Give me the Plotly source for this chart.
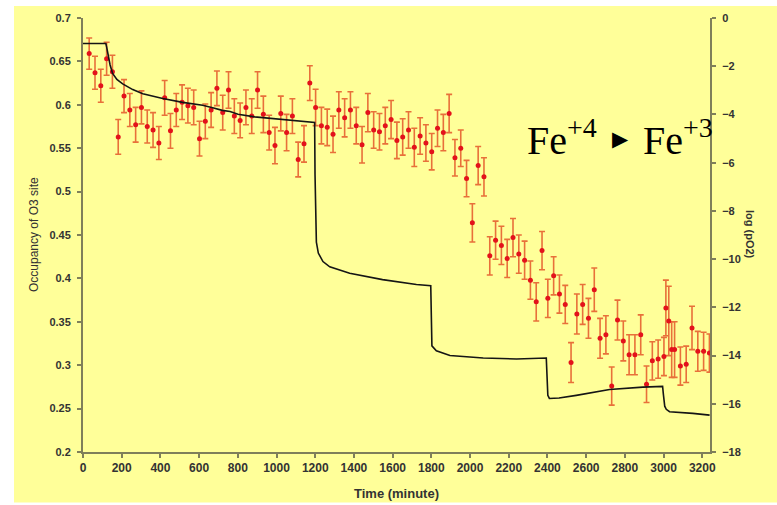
import plotly.graph_objects as go

# ---------------- data ----------------
time_pts = [32, 62, 92, 122, 152, 182, 212, 242, 272, 302,
            332, 362, 392, 422, 452, 482, 512, 542, 572, 602,
            632, 662, 692, 722, 752, 782, 812, 842, 872, 902,
            932, 962, 992, 1022, 1052, 1082, 1112, 1142, 1172, 1202,
            1232, 1262, 1292, 1322, 1352, 1382, 1412, 1442, 1472, 1502,
            1532, 1562, 1592, 1622, 1652, 1682, 1712, 1742, 1772, 1802,
            1832, 1862, 1892, 1922, 1952, 1982, 2012, 2042, 2072, 2102,
            2132, 2162, 2192, 2222, 2252, 2282, 2312, 2342, 2372, 2402,
            2432, 2462, 2492, 2522, 2552, 2582, 2612, 2642, 2672, 2702,
            2732, 2762, 2792, 2822, 2852, 2882, 2912, 2942, 2972, 3002,
            3012, 3027, 3042, 3057, 3087, 3117, 3147, 3177, 3207, 3237]

occupancy = [0.659, 0.637, 0.622, 0.653, 0.638, 0.563, 0.610, 0.594, 0.577, 0.597,
             0.575, 0.571, 0.556, 0.608, 0.570, 0.594, 0.603, 0.599, 0.597, 0.561,
             0.581, 0.594, 0.619, 0.591, 0.617, 0.587, 0.582, 0.597, 0.587, 0.617,
             0.589, 0.568, 0.553, 0.590, 0.568, 0.587, 0.537, 0.555, 0.625, 0.597,
             0.576, 0.574, 0.566, 0.594, 0.585, 0.594, 0.576, 0.554, 0.591, 0.571,
             0.569, 0.576, 0.583, 0.559, 0.563, 0.571, 0.551, 0.564, 0.556, 0.546,
             0.573, 0.568, 0.590, 0.539, 0.550, 0.515, 0.464, 0.530, 0.517, 0.426,
             0.444, 0.438, 0.423, 0.447, 0.428, 0.421, 0.398, 0.373, 0.432, 0.377,
             0.403, 0.382, 0.370, 0.303, 0.359, 0.370, 0.354, 0.387, 0.331, 0.335,
             0.276, 0.352, 0.328, 0.312, 0.312, 0.335, 0.278, 0.305, 0.307, 0.310,
             0.366, 0.351, 0.318, 0.318, 0.299, 0.301, 0.343, 0.316, 0.316, 0.314]

occ_err = [0.018, 0.019, 0.019, 0.019, 0.019, 0.020, 0.019, 0.019, 0.020, 0.019,
           0.019, 0.020, 0.019, 0.020, 0.020, 0.019, 0.020, 0.020, 0.020, 0.020,
           0.020, 0.020, 0.020, 0.020, 0.021, 0.020, 0.020, 0.020, 0.020, 0.021,
           0.021, 0.020, 0.021, 0.020, 0.021, 0.020, 0.020, 0.021, 0.020, 0.021,
           0.021, 0.021, 0.021, 0.021, 0.022, 0.021, 0.021, 0.021, 0.022, 0.021,
           0.021, 0.021, 0.022, 0.021, 0.021, 0.021, 0.022, 0.021, 0.021, 0.021,
           0.021, 0.021, 0.022, 0.021, 0.021, 0.021, 0.022, 0.022, 0.022, 0.022,
           0.022, 0.022, 0.022, 0.022, 0.022, 0.022, 0.022, 0.022, 0.022, 0.022,
           0.022, 0.022, 0.022, 0.023, 0.023, 0.023, 0.023, 0.025, 0.023, 0.022,
           0.022, 0.023, 0.023, 0.023, 0.023, 0.023, 0.021, 0.022, 0.022, 0.022,
           0.032, 0.040, 0.032, 0.032, 0.022, 0.021, 0.025, 0.023, 0.022, 0.022]

time_po2 = [0, 60, 118, 122, 130, 140, 153, 175, 205, 257,
            309, 360, 412, 515, 560, 618, 670, 720, 760, 801,
            887, 973, 1059, 1145, 1197,
            1199, 1202, 1206, 1216, 1240, 1275, 1378, 1548, 1723, 1797,
            1800, 1803, 1826, 1896, 2068, 2240, 2394,
            2398, 2402, 2410, 2460, 2549, 2721, 2893, 2995,
            2999, 3006, 3014, 3031, 3151, 3238]

log_po2 = [-1.06, -1.05, -1.06, -1.20, -1.60, -1.95, -2.30, -2.55, -2.73, -2.97,
           -3.14, -3.25, -3.34, -3.50, -3.55, -3.62, -3.72, -3.83, -3.88, -3.99,
           -4.10, -4.16, -4.23, -4.30, -4.33,
           -6.50, -8.60, -9.30, -9.75, -10.10, -10.32, -10.59, -10.85, -11.05, -11.10,
           -12.50, -13.60, -13.80, -14.00, -14.10, -14.14, -14.10,
           -15.00, -15.65, -15.78, -15.76, -15.65, -15.41, -15.31, -15.28,
           -15.60, -16.10, -16.23, -16.33, -16.40, -16.47]

x_ticks = [0, 200, 400, 600, 800, 1000, 1200, 1400, 1600, 1800,
           2000, 2200, 2400, 2600, 2800, 3000, 3200]
y_ticks = [0.2, 0.25, 0.3, 0.35, 0.4, 0.45, 0.5, 0.55, 0.6, 0.65, 0.7]
y_ticklabels = ["0.2", "0.25", "0.3", "0.35", "0.4", "0.45", "0.5", "0.55", "0.6", "0.65", "0.7"]
y2_ticks = [-18, -16, -14, -12, -10, -8, -6, -4, -2, 0]

# ---------------- figure ----------------
W, H = 777, 505
L, R, T, B = 83, 67, 14, 53
pw, ph = W - L - R, H - T - B

def px_x(px):
    return (px - L) / pw

def px_y(py):
    return (H - B - py) / ph

yellow = "#FFFF99"
axis_col = "#7F7F5A"
tick_font = dict(family="Liberation Sans, Arial", size=11, color="#333333", weight="bold")
serif = dict(family="Liberation Serif, Times New Roman", size=40, color="black")

fig = go.Figure()

fig.add_trace(go.Scatter(
    x=time_pts, y=occupancy, mode="markers",
    marker=dict(color="#E3121B", size=5),
    error_y=dict(type="data", array=occ_err, visible=True,
                 color="#E8703A", thickness=1.6, width=3),
    showlegend=False, yaxis="y"))

fig.add_trace(go.Scatter(
    x=time_po2, y=log_po2, mode="lines",
    line=dict(color="#151515", width=1.6),
    showlegend=False, yaxis="y2"))

fig.update_layout(
    width=W, height=H,
    margin=dict(l=L, r=R, t=T, b=B),
    paper_bgcolor="white",
    plot_bgcolor=yellow,
    xaxis=dict(range=[0, 3240], tickvals=x_ticks, showgrid=False, zeroline=False,
               showline=True, linecolor=axis_col, linewidth=2,
               ticks="outside", ticklen=4, tickcolor=axis_col, tickwidth=1.5,
               tickfont=dict(family="Liberation Sans, Arial", size=12, color="#333333", weight="bold")),
    yaxis=dict(range=[0.2, 0.7], tickvals=y_ticks, ticktext=y_ticklabels,
               showgrid=False, zeroline=False,
               showline=True, linecolor=axis_col, linewidth=2,
               ticks="outside", ticklen=4, tickcolor=axis_col, tickwidth=1.5,
               ticklabelstandoff=4, tickfont=tick_font),
    yaxis2=dict(range=[-18, 0], tickvals=y2_ticks, overlaying="y", side="right",
                showgrid=False, zeroline=False,
                showline=True, linecolor=axis_col, linewidth=2,
                ticks="outside", ticklen=4, tickcolor=axis_col, tickwidth=1.5,
                ticklabelstandoff=4, tickfont=tick_font),
    shapes=[dict(type="rect", xref="paper", yref="paper",
                 x0=px_x(14), x1=px_x(778), y0=px_y(503), y1=px_y(2),
                 fillcolor=yellow, line=dict(width=0), layer="below")],
    annotations=[
        dict(text="Time (minute)", xref="paper", yref="paper",
             x=0.5, y=px_y(494), showarrow=False, xanchor="center", yanchor="middle",
             font=dict(family="Liberation Sans, Arial", size=13, color="#333333", weight="bold")),
        dict(text="Occupancy of O3 site", xref="paper", yref="paper",
             x=px_x(34), y=px_y(233), showarrow=False, textangle=-90,
             xanchor="center", yanchor="middle",
             font=dict(family="Liberation Sans, Arial", size=12, color="#333333")),
        dict(text="log (pO2)", xref="paper", yref="paper",
             x=px_x(750), y=px_y(232), showarrow=False, textangle=90,
             xanchor="center", yanchor="middle",
             font=dict(family="Liberation Sans, Arial", size=11, color="#333333", weight="bold")),
        dict(text="Fe<sup>+4</sup>", xref="paper", yref="paper",
             x=px_x(525), y=px_y(135), showarrow=False, xanchor="left", yanchor="middle",
             font=serif),
        dict(text="▶", xref="paper", yref="paper",
             x=px_x(620), y=px_y(136), showarrow=False, xanchor="center", yanchor="middle",
             font=dict(family="DejaVu Sans", size=21, color="black")),
        dict(text="Fe<sup>+3</sup>", xref="paper", yref="paper",
             x=px_x(641), y=px_y(135), showarrow=False, xanchor="left", yanchor="middle",
             font=serif),
    ],
)

fig.write_html("out.html")
